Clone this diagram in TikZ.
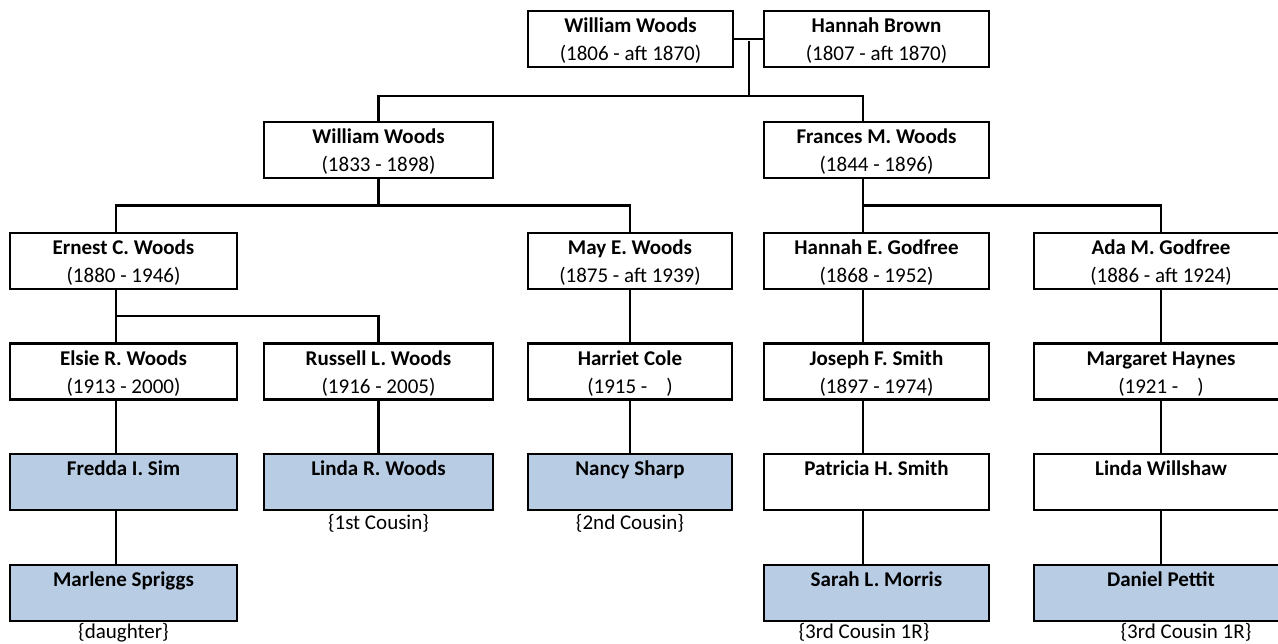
\documentclass[tikz,border=0pt]{standalone}
\usepackage{fontspec}
\setmainfont{Carlito}
\usetikzlibrary{positioning}
\definecolor{cellblue}{HTML}{B8CCE4}
\newcommand{\who}[2]{\rule{0pt}{23.6pt}\textbf{#1}\strut\\#2\strut}

\begin{document}
\begin{tikzpicture}[x=1pt,y=-1pt]
                \tikzstyle{every node}+=[inner sep=0pt]
                \tikzstyle{person}=[draw, line width=2.6pt, minimum height=56pt, inner ysep=-2pt, align=center, font=\fontsize{21}{28}\selectfont]
                \tikzstyle{self}=[person, fill=cellblue]
                \tikzstyle{tag}=[font=\fontsize{21}{26}\selectfont]
                \tikzstyle{link}=[line width=2.6pt]
                \useasboundingbox (0,0) rectangle (1278,644);
                % line columns and fork heights
                \coordinate (xa) at (116,0);
                \coordinate (xd) at (863,0);
                \coordinate (y1) at (0,96);
                \coordinate (y2) at (0,205.5);
                \coordinate (y3) at (0,316);
                % row 1
                \node [person, minimum width=205pt] (ww) at (630.5,39) {\who{William Woods}{(1806 - aft 1870)}};
                \node [person, minimum width=225pt] (hb) at (876.5,39) {\who{Hannah Brown}{(1807 - aft 1870)}};
                % row 2
                \node [person, minimum width=229pt] (wwj) at (378.5,150) {\who{William Woods}{(1833 - 1898)}};
                \node [person, minimum width=225pt] (fmw) at (876.5,150) {\who{Frances M. Woods}{(1844 - 1896)}};
                % row 3
                \node [person, minimum width=227pt] (ecw) at (123.5,261) {\who{Ernest C. Woods}{(1880 - 1946)}};
                \node [person, minimum width=204pt] (mew) at (630,261) {\who{May E. Woods}{(1875 - aft 1939)}};
                \node [person, minimum width=225pt] (heg) at (876.5,261) {\who{Hannah E. Godfree}{(1868 - 1952)}};
                \node [person, minimum width=254pt] (amg) at (1161,261) {\who{Ada M. Godfree}{(1886 - aft 1924)}};
                % row 4
                \node [person, minimum width=227pt] (erw) at (123.5,371.5) {\who{Elsie R. Woods}{(1913 - 2000)}};
                \node [person, minimum width=229pt] (rlw) at (378.5,371.5) {\who{Russell L. Woods}{(1916 - 2005)}};
                \node [person, minimum width=204pt] (hc) at (630,371.5) {\who{Harriet Cole}{(1915 -\hspace{19pt})}};
                \node [person, minimum width=225pt] (jfs) at (876.5,371.5) {\who{Joseph F. Smith}{(1897 - 1974)}};
                \node [person, minimum width=254pt] (mh) at (1161,371.5) {\who{Margaret Haynes}{(1921 -\hspace{19pt})}};
                % row 5
                \node [self, minimum width=227pt] (fis) at (123.5,482) {\who{Fredda I. Sim}{}};
                \node [self, minimum width=229pt] (lrw) at (378.5,482) {\who{Linda R. Woods}{}};
                \node [self, minimum width=204pt] (ns) at (630,482) {\who{Nancy Sharp}{}};
                \node [person, minimum width=225pt] (phs) at (876.5,482) {\who{Patricia H. Smith}{}};
                \node [person, minimum width=254pt] (lw) at (1161,482) {\who{Linda Willshaw}{}};
                % row 6
                \node [self, minimum width=227pt] (ms) at (123.5,593) {\who{Marlene Spriggs}{}};
                \node [self, minimum width=225pt] (slm) at (876.5,593) {\who{Sarah L. Morris}{}};
                \node [self, minimum width=254pt] (dp) at (1161,593) {\who{Daniel Pettit}{}};
                % relationship notes
                \node [tag, below=3pt of lrw] (t1) {\{1st Cousin\}};
                \node [tag, below=3pt of ns] (t2) {\{2nd Cousin\}};
                \node [tag, below=1pt of ms] (t3) {\{daughter\}};
                \node [tag, below=1pt of slm, xshift=-12.5pt] (t4) {\{3rd Cousin 1R\}};
                \node [tag, below=1pt of dp, xshift=25pt] (t5) {\{3rd Cousin 1R\}};
                % couple and children
                \draw [link] (ww.east) -- (hb.west);
                \coordinate (wed) at (749,41);
                \draw [link] (wed) -- (wed |- y1);
                \draw [link] (wwj.north) |- (wed |- y1) -| (fmw.north -| xd);
                \draw [link] (wwj.south) -- (wwj.south |- y2);
                \draw [link] (ecw.north -| xa) |- (mew.north |- y2) -- (mew.north);
                \draw [link] (fmw.south -| xd) -- (heg.north -| xd);
                \draw [link] (heg.north -| xd) |- (amg.north |- y2) -- (amg.north);
                \draw [link] (ecw.south -| xa) -- (erw.north -| xa);
                \draw [link] (erw.north -| xa) |- (rlw.north |- y3) -- (rlw.north);
                % single lines
                \draw [link] (erw.south -| xa) -- (fis.north -| xa);
                \draw [link] (fis.south -| xa) -- (ms.north -| xa);
                \draw [link] (rlw) -- (lrw);
                \draw [link] (mew) -- (hc);
                \draw [link] (hc) -- (ns);
                \draw [link] (heg.south -| xd) -- (jfs.north -| xd);
                \draw [link] (jfs.south -| xd) -- (phs.north -| xd);
                \draw [link] (phs.south -| xd) -- (slm.north -| xd);
                \draw [link] (amg) -- (mh);
                \draw [link] (mh) -- (lw);
                \draw [link] (lw) -- (dp);
            \end{tikzpicture}
\end{document}
